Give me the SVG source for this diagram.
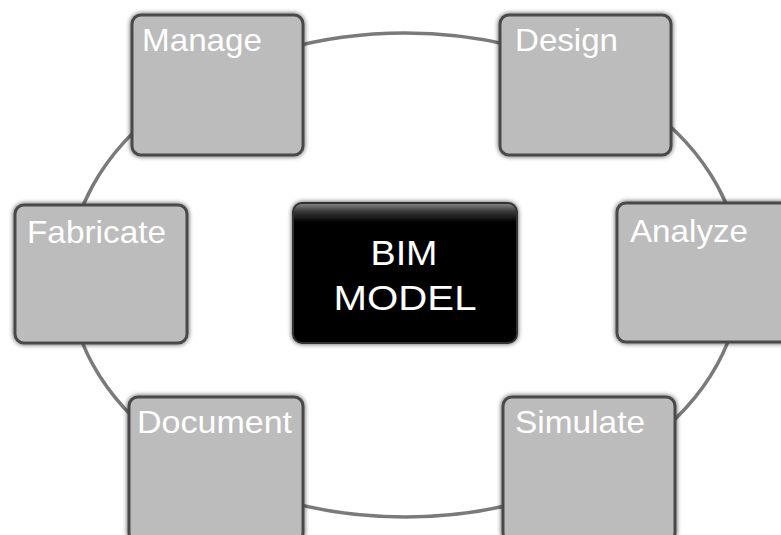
<svg xmlns="http://www.w3.org/2000/svg" width="781" height="535" viewBox="0 0 781 535">
  <style>
    .box { fill: #bcbcbc; stroke: #4a4a4a; stroke-width: 3; filter: url(#sh); }
    .lbl { fill: #ffffff; font-family: "Liberation Sans", Arial, sans-serif; font-size: 32px; }
    .core { fill: url(#coreGrad); stroke: #333; stroke-width: 2; filter: url(#sh); }
    .coreTxt { fill: #ffffff; font-family: "Liberation Sans", Arial, sans-serif; font-size: 35px; text-anchor: middle; }
    .ring { fill: none; stroke: #7a7a7a; stroke-width: 3.5; }
  </style>
  <defs>
    <filter id="sh" x="-10%" y="-10%" width="120%" height="120%">
      <feGaussianBlur in="SourceAlpha" stdDeviation="2.5" result="b"/>
      <feComponentTransfer in="b" result="s"><feFuncA type="linear" slope="0.7"/></feComponentTransfer>
      <feMerge><feMergeNode in="s"/><feMergeNode in="SourceGraphic"/></feMerge>
    </filter>
    <linearGradient id="coreGrad" x1="0" y1="0" x2="0" y2="1">
      <stop offset="0" stop-color="#8a8a8a"/>
      <stop offset="0.06" stop-color="#3a3a3a"/>
      <stop offset="0.14" stop-color="#000000"/>
      <stop offset="1" stop-color="#000000"/>
    </linearGradient>
  </defs>
  <rect width="781" height="535" fill="#ffffff"/>
  <g id="connectors">
    <ellipse class="ring" cx="405" cy="275" rx="336" ry="242"/>
  </g>
  <g id="manage">
    <rect class="box" x="132" y="15" width="171" height="140" rx="9"/>
    <text class="lbl" x="142" y="51" textLength="120" lengthAdjust="spacingAndGlyphs">Manage</text>
  </g>
  <g id="design">
    <rect class="box" x="500" y="15" width="171" height="140" rx="9"/>
    <text class="lbl" x="515" y="51" textLength="103" lengthAdjust="spacingAndGlyphs">Design</text>
  </g>
  <g id="fabricate">
    <rect class="box" x="15" y="205" width="172" height="138" rx="9"/>
    <text class="lbl" x="27" y="243" textLength="139" lengthAdjust="spacingAndGlyphs">Fabricate</text>
  </g>
  <g id="analyze">
    <rect class="box" x="617" y="203" width="175" height="139" rx="9"/>
    <text class="lbl" x="630" y="242" textLength="118" lengthAdjust="spacingAndGlyphs">Analyze</text>
  </g>
  <g id="document">
    <rect class="box" x="129" y="397" width="174" height="145" rx="9"/>
    <text class="lbl" x="137" y="433" textLength="155" lengthAdjust="spacingAndGlyphs">Document</text>
  </g>
  <g id="simulate">
    <rect class="box" x="503" y="397" width="172" height="145" rx="9"/>
    <text class="lbl" x="515" y="433" textLength="130" lengthAdjust="spacingAndGlyphs">Simulate</text>
  </g>
  <g id="bim-model">
    <rect class="core" x="293" y="203" width="224" height="140" rx="9"/>
    <text class="coreTxt" x="404" y="265" textLength="67" lengthAdjust="spacingAndGlyphs">BIM</text>
    <text class="coreTxt" x="405" y="310" textLength="143" lengthAdjust="spacingAndGlyphs">MODEL</text>
  </g>
</svg>
